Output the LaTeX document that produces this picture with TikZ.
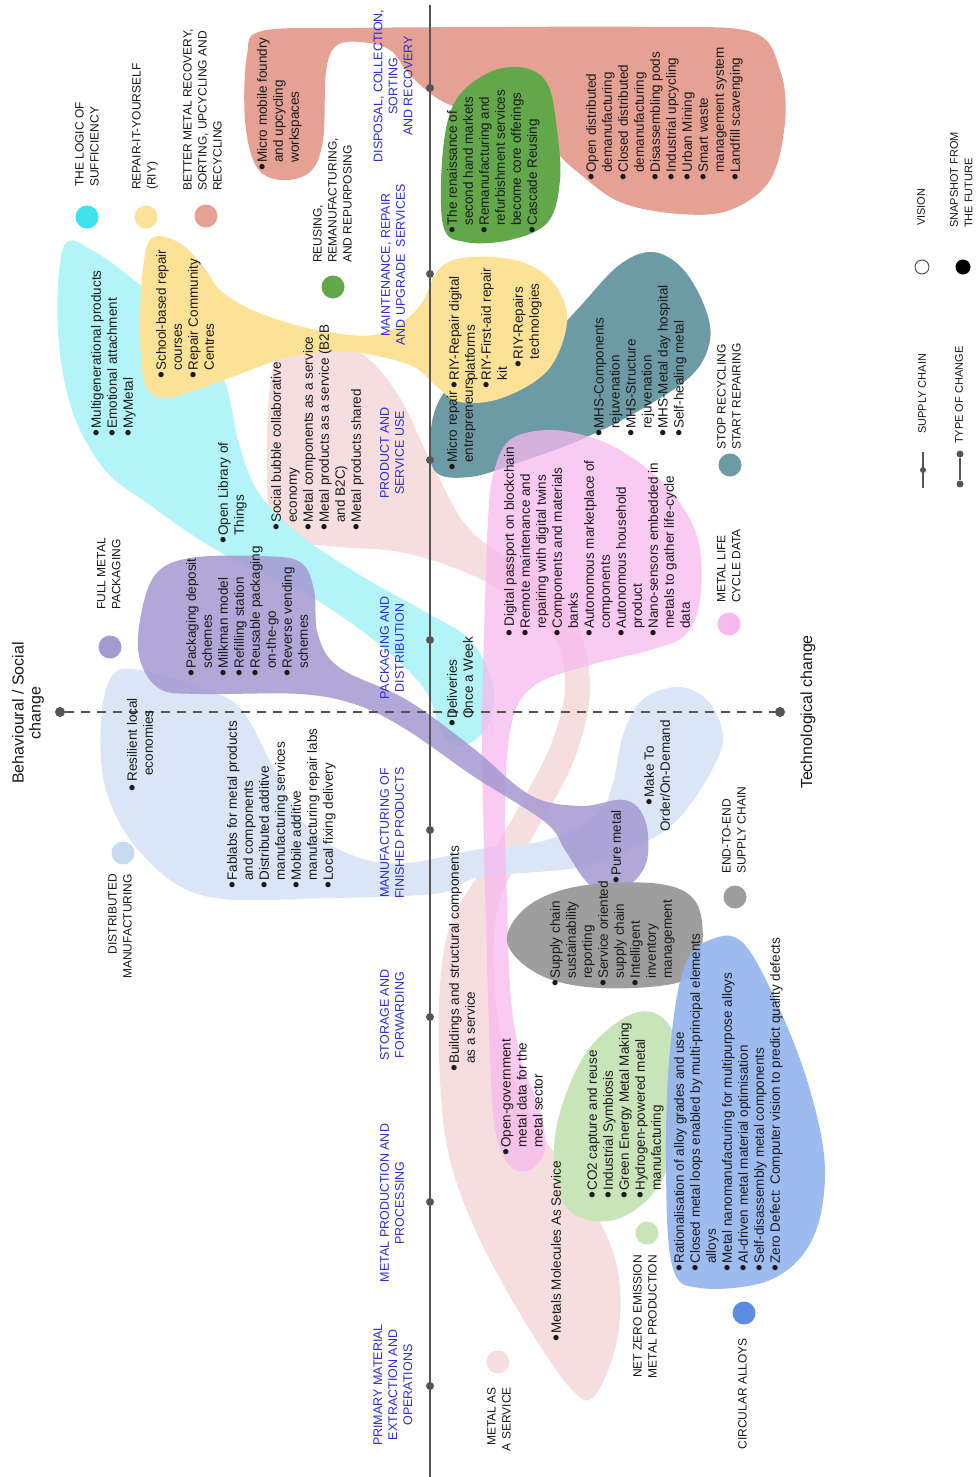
\documentclass[tikz,border=0pt]{standalone}
\usepackage{graphicx}
\usepackage{fontspec}
\setmainfont{Liberation Sans}
\definecolor{cyanB}{RGB}{178,244,247}
\definecolor{cyanC}{RGB}{62,226,236}
\definecolor{yelB}{RGB}{252,226,150}
\definecolor{salB}{RGB}{228,161,148}
\definecolor{grnB}{RGB}{98,168,74}
\definecolor{tealB}{RGB}{108,155,166}
\definecolor{pinkB}{RGB}{248,185,238}
\definecolor{lpinkB}{RGB}{247,222,222}
\definecolor{purB}{RGB}{165,153,210}
\definecolor{lblueB}{RGB}{218,229,246}
\definecolor{lblueC}{RGB}{200,218,240}
\definecolor{grayB}{RGB}{158,158,158}
\definecolor{lgrnB}{RGB}{200,228,185}
\definecolor{bluB}{RGB}{148,180,238}
\definecolor{bluC}{RGB}{92,140,226}
\definecolor{stagec}{RGB}{45,45,210}
\definecolor{txtc}{RGB}{25,25,25}
\definecolor{axc}{RGB}{85,85,85}
\newcommand\bul{\makebox[0.6em][l]{\raisebox{-0.12em}{\scalebox{1.45}{\textbullet}}}}
\newcommand\ind{\hspace*{0.6em}}
\begin{document}
\begin{tikzpicture}[x=1pt,y=-1pt,
  txt/.style={rotate=90,anchor=north west,inner sep=0pt,align=left,font=\fontsize{13.5}{16}\selectfont,text=txtc},
  stg/.style={rotate=90,anchor=center,inner sep=0pt,align=center,font=\fontsize{12.5}{15}\selectfont,text=stagec},
  cat/.style={rotate=90,anchor=north west,inner sep=0pt,align=left,font=\fontsize{12}{15}\selectfont,text=txtc},
  catr/.style={cat,anchor=north east,align=right},
  leg/.style={rotate=90,anchor=north west,inner sep=0pt,align=left,font=\fontsize{11}{14.5}\selectfont,text=txtc},
  dot/.style={circle,fill=axc,inner sep=0pt,minimum size=8pt},
  catc/.style={circle,inner sep=0pt,minimum size=23pt,fill=#1},
  sm/.style={smooth cycle,tension=0.6}
]
\useasboundingbox (0,0) rectangle (977,1477);
\fill[white] (0,0) rectangle (977,1477);

% ---------- blobs ----------
% metal as a service (light pink)
\fill[lpinkB] plot[sm] coordinates {(272,372) (290,346) (323,339) (365,356) (400,398) (430,460) (470,530) (530,572) (575,620) (590,690) (572,765) (532,838) (500,900) (494,965) (502,1040) (532,1120) (582,1190) (616,1262) (618,1335) (596,1394) (574,1392) (530,1330) (480,1240) (450,1160) (440,1080) (440,985) (452,920) (485,865) (520,805) (552,742) (565,685) (552,632) (512,598) (465,572) (400,552) (330,546) (276,534) (267,460)};
% distributed manufacturing (light blue)
\fill[lblueB] plot[sm] coordinates {(101,722) (112,676) (140,670) (200,688) (240,708) (273,767) (307,827) (357,857) (407,863) (480,849) (547,840) (597,815) (613,783) (623,735) (642,700) (677,687) (707,700) (723,735) (712,770) (680,817) (645,842) (580,867) (480,877) (440,893) (330,898) (205,896) (140,852) (106,790)};
% logic of sufficiency (cyan)
\fill[cyanB] plot[sm] coordinates {(64,246) (95,252) (140,285) (195,330) (225,382) (238,440) (258,492) (300,535) (360,575) (427,613) (470,640) (493,685) (488,725) (465,745) (443,735) (425,690) (380,645) (310,596) (250,568) (200,540) (150,505) (105,470) (72,410) (58,330)};
% stop recycling (teal)
\fill[tealB] plot[sm] coordinates {(434,470) (432,422) (448,388) (480,372) (530,358) (575,312) (618,266) (652,252) (682,268) (704,305) (710,340) (692,375) (640,410) (580,440) (520,462) (470,477)};
% repair it yourself (yellow)
\fill[yelB] plot[sm] coordinates {(152,238) (178,242) (202,265) (222,292) (262,314) (322,331) (380,334) (418,308) (440,268) (472,257) (522,262) (555,285) (567,322) (548,370) (502,398) (460,402) (436,386) (410,365) (350,352) (290,357) (240,374) (205,387) (165,398) (145,384) (140,330) (143,268)};
% better metal recovery (salmon)
\fill[salB] plot[sm] coordinates {(247,55) (262,31) (350,28) (500,27) (650,27) (752,32) (780,70) (785,122) (770,180) (730,210) (680,214) (620,202) (575,170) (540,140) (480,116) (440,100) (410,75) (390,50) (360,42) (336,46) (326,72) (323,140) (310,172) (280,180) (256,166) (245,120)};
% reusing (green)
\fill[grnB] plot[sm] coordinates {(443,150) (456,100) (490,72) (525,68) (548,85) (557,130) (560,180) (548,222) (510,240) (465,242) (443,225)};
% metal life cycle data (pink)
\fill[pinkB,fill opacity=0.75] plot[sm] coordinates {(492,480) (505,445) (530,432) (570,432) (620,450) (670,490) (698,540) (700,600) (685,635) (650,650) (590,665) (535,685) (512,722) (505,800) (507,900) (511,1000) (522,1062) (540,1110) (545,1150) (530,1170) (510,1166) (495,1130) (490,1060) (487,960) (484,850) (482,730) (485,600) (488,520)};
% full metal packaging (purple)
\fill[purB,fill opacity=0.85] plot[sm] coordinates {(140,620) (155,575) (190,558) (260,556) (300,562) (314,590) (318,635) (340,668) (407,700) (473,748) (530,795) (580,806) (625,800) (645,820) (647,860) (630,885) (605,895) (585,880) (565,850) (545,822) (473,776) (407,730) (357,705) (300,694) (200,694) (160,689) (140,660)};
% end-to-end supply chain (gray)
\fill[grayB] plot[sm] coordinates {(507,942) (528,906) (580,886) (660,884) (697,904) (701,955) (680,982) (600,988) (540,975)};
% net zero (light green)
\fill[lgrnB] plot[sm] coordinates {(558,1120) (588,1050) (638,1012) (672,1030) (682,1100) (662,1180) (620,1218) (575,1215) (556,1180)};
% circular alloys (blue)
\fill[bluB,fill opacity=0.9] plot[sm] coordinates {(670,1050) (685,965) (715,938) (745,945) (780,1010) (810,1090) (825,1170) (812,1240) (770,1280) (700,1288) (672,1265) (666,1160)};

% ---------- axes ----------
\coordinate (vt) at (430,5);
\coordinate (vb) at (430,1477);
\draw[axc,line width=2pt] (vt) -- (vb);
\node[dot] (d1) at (430,88) {};
\node[dot] (d2) at (430,274) {};
\node[dot] (d3) at (430,460) {};
\node[dot] (d4) at (430,640) {};
\node[dot] (d5) at (430,830) {};
\node[dot] (d6) at (430,1017) {};
\node[dot] (d7) at (430,1202) {};
\node[dot] (d8) at (430,1386) {};
\node[dot,minimum size=10pt] (hl) at (60,712) {};
\node[dot,minimum size=10pt] (hr) at (780,712) {};
\draw[axc,line width=2pt,dash pattern=on 9pt off 7pt] (hl) -- (hr);
\node[rotate=90,anchor=center,align=center,inner sep=0pt,font=\fontsize{16}{17}\selectfont,text=txtc] (axb) at (28,713) {Behavioural / Social\\change};
\node[rotate=90,anchor=center,inner sep=0pt,font=\fontsize{16}{17}\selectfont,text=txtc] (axt) at (808,712) {Technological change};

% ---------- stage labels ----------
\node[stg] (st1) at (393,86) {DISPOSAL, COLLECTION,\\SORTING\\AND RECOVERY};
\node[stg] (st2) at (393,265) {MAINTENANCE, REPAIR\\AND UPGRADE\ \ SERVICES};
\node[stg] (st3) at (392,453) {PRODUCT AND\\SERVICE USE};
\node[stg] (st4) at (392,648) {PACKAGING AND\\DISTRIBUTION};
\node[stg] (st5) at (392,833) {MANUFACTURING OF\\FINISHED PRODUCTS};
\node[stg] (st6) at (392,1015) {STORAGE AND\\FORWARDING};
\node[stg] (st7) at (392,1203) {METAL PRODUCTION AND\\PROCESSING};
\node[stg] (st8) at (393,1385) {PRIMARY MATERIAL\\EXTRACTION AND\\OPERATIONS};

% ---------- category legend ----------
\node[catc=cyanC] (cc1) at (87,217) {};
\node[catc=yelB] (cc2) at (146,217) {};
\node[catc=salB] (cc3) at (206,216) {};
\node[catc=grnB] (cc4) at (333,287) {};
\node[catc=tealB] (cc5) at (730,465) {};
\node[catc=pinkB] (cc6) at (729,624) {};
\node[catc=grayB] (cc7) at (735,897) {};
\node[catc=purB] (cc8) at (110,647) {};
\node[catc=lblueC] (cc9) at (123,853) {};
\node[catc=lpinkB] (cc10) at (498,1362) {};
\node[catc=lgrnB] (cc11) at (647,1233) {};
\node[catc=bluC] (cc12) at (744,1313) {};
\node[cat] (cl1) at (75,187) {THE LOGIC OF\\SUFFICIENCY};
\node[cat] (cl2) at (132,190) {REPAIR-IT-YOURSELF\\(RIY)};
\node[cat] (cl3) at (183,191) {BETTER METAL RECOVERY,\\SORTING, UPCYCLING AND\\RECYCLING};
\node[cat] (cl4) at (313,263) {REUSING,\\REMANUFACTURING,\\AND REPURPOSING};
\node[cat] (cl5) at (717,450) {STOP RECYCLING\\START REPAIRING};
\node[cat] (cl6) at (717,603) {METAL LIFE\\CYCLE DATA};
\node[cat] (cl7) at (722,874) {END-TO-END\\SUPPLY CHAIN};
\node[cat] (cl8) at (97,610) {FULL METAL\\PACKAGING};
\node[catr] (cl9) at (108,874) {DISTRIBUTED\\MANUFACTURING};
\node[catr] (cl10) at (487,1387) {METAL AS\\A SERVICE};
\node[catr] (cl11) at (633,1255) {NET ZERO EMISSION\\METAL PRODUCTION};
\node[catr] (cl12) at (738,1338) {CIRCULAR ALLOYS};

% ---------- far right legend ----------
\node[leg] (lsc) at (918,434) {SUPPLY CHAIN};
\coordinate (s1a) at (923,452);
\coordinate (s1b) at (923,488);
\draw[axc,line width=1.5pt] (s1a) -- (s1b);
\node[circle,fill=axc,inner sep=0pt,minimum size=6pt] (s1d) at (923,470) {};
\node[leg] (ltc) at (955,444) {TYPE OF CHANGE};
\node[circle,fill=axc,inner sep=0pt,minimum size=7pt] (s2a) at (960,454) {};
\node[circle,fill=axc,inner sep=0pt,minimum size=7pt] (s2b) at (960,484) {};
\draw[axc,line width=1.5pt] (s2a) -- (s2b);
\node[leg] (lvis) at (917,226) {VISION};
\node[circle,draw=axc,line width=1pt,inner sep=0pt,minimum size=14pt] (ovis) at (922,267) {};
\node[leg] (lsnap) at (950,228) {SNAPSHOT FROM\\THE FUTURE};
\node[circle,fill=black,inner sep=0pt,minimum size=15pt] (osnap) at (963,267) {};

% ---------- blob texts ----------
\node[txt] (sal1) at (257,171) {\bul Micro mobile foundry\\\ind and upcycling\\\ind workspaces};
\node[txt] (sal2) at (586,181) {\bul Open distributed\\\ind demanufacturing\\\bul Closed distributed\\\ind demanufacturing\\\bul Disassembling pods\\\bul Industrial upcycling\\\bul Urban Mining\\\bul Smart waste\\\ind management system\\\bul Landfill scavenging};
\node[txt] (grn) at (447,234) {\bul The renaissance of\\\ind second hand markets\\\bul Remanufacturing and\\\ind refurbishment services\\\ind become core offerings\\\bul Cascade Reusing};
\node[txt] (yl1) at (156,379) {\bul School-based repair\\\ind courses\\\bul Repair Community\\\ind Centres};
\node[txt] (yl2) at (449,389) {\bul RIY-Repair digital\\\ind platforms\\\bul RIY-First-aid repair\\\ind kit\\\hspace*{1.6em}\bul RIY-Repairs\\\hspace*{2.2em}technologies};
\node[txt] (tl1) at (447,471) {\bul Micro repair\\\ind entrepreneurs};
\node[txt] (tl2) at (594,437) {\bul MHS-Components\\\ind rejuvenation\\\bul MHS-Structure\\\ind rejuvenation\\\bul MHS-Metal day hospital\\\bul Self-healing metal};
\node[txt] (cy1) at (91,437) {\bul Multigenerational products\\\bul Emotional attachment\\\bul MyMetal};
\node[txt] (cy2) at (218,544) {\bul Open Library of\\\ind Things};
\node[txt] (cy3) at (447,727) {\bul Deliveries\\\ind Once a Week};
\node[txt] (lp1) at (271,531) {\bul Social bubble collaborative\\\ind economy\\\bul Metal components as a service\\\bul Metal products as a service (B2B\\\ind and B2C)\\\bul Metal products shared};
\node[txt] (lp2) at (449,1072) {\bul Buildings and structural components\\\ind as a service};
\node[txt] (lp3) at (551,1342) {\bul Metals Molecules As Service};
\node[txt] (pk1) at (504,637) {\bul\,Digital passport on blockchain\\\bul Remote maintenance and\\\ind repairing with digital twins\\\bul Components and materials\\\ind banks\\\bul Autonomous marketplace of\\\ind components\\\bul Autonomous household\\\ind product\\\bul Nano-sensors embedded in\\\ind metals to gather life-cycle\\\ind data};
\node[txt] (pk2) at (501,1156) {\bul Open-government\\\ind metal data for the\\\ind metal sector};
\node[txt] (pu1) at (186,677) {\bul Packaging deposit\\\ind schemes\\\bul Milkman model\\\bul Refilling station\\\bul Reusable packaging\\\ind on-the-go\\\bul Reverse vending\\\ind schemes};
\node[txt] (pu2) at (611,884) {\bul Pure metal};
\node[txt] (lb1) at (127,792) {\bul\,Resilient local\\\hspace*{1.2em}economies};
\node[txt] (lb2) at (227,889) {\bul Fablabs for metal products\\\ind and components\\\bul Distributed additive\\\ind manufacturing services\\\bul Mobile additive\\\ind manufacturing repair labs\\\bul Local fixing delivery};
\node[txt,anchor=north,align=center] (lb3) at (644,776) {\bul Make To\\Order/On-Demand};
\node[txt] (gy1) at (550,987) {\bul Supply chain\\\ind sustainability\\\ind reporting\\\bul Service oriented\\\ind supply chain\\\bul Intelligent\\\ind inventory\\\ind management};
\node[txt] (lg1) at (587,1199) {\bul CO2 capture and reuse\\\bul Industrial Symbiosis\\\bul Green Energy Metal Making\\\bul Hydrogen-powered metal\\\ind manufacturing};
\node[txt] (bl1) at (674,1272) {\bul Rationalisation of alloy grades and use\\\bul Closed metal loops enabled by multi-principal elements\\\ind alloys\\\bul Metal nanomanufacturing for multipurpose alloys\\\bul AI-driven metal material optimisation\\\bul Self-disassembly metal components\\\bul Zero Defect: Computer vision to predict quality defects};
\end{tikzpicture}
\end{document}
